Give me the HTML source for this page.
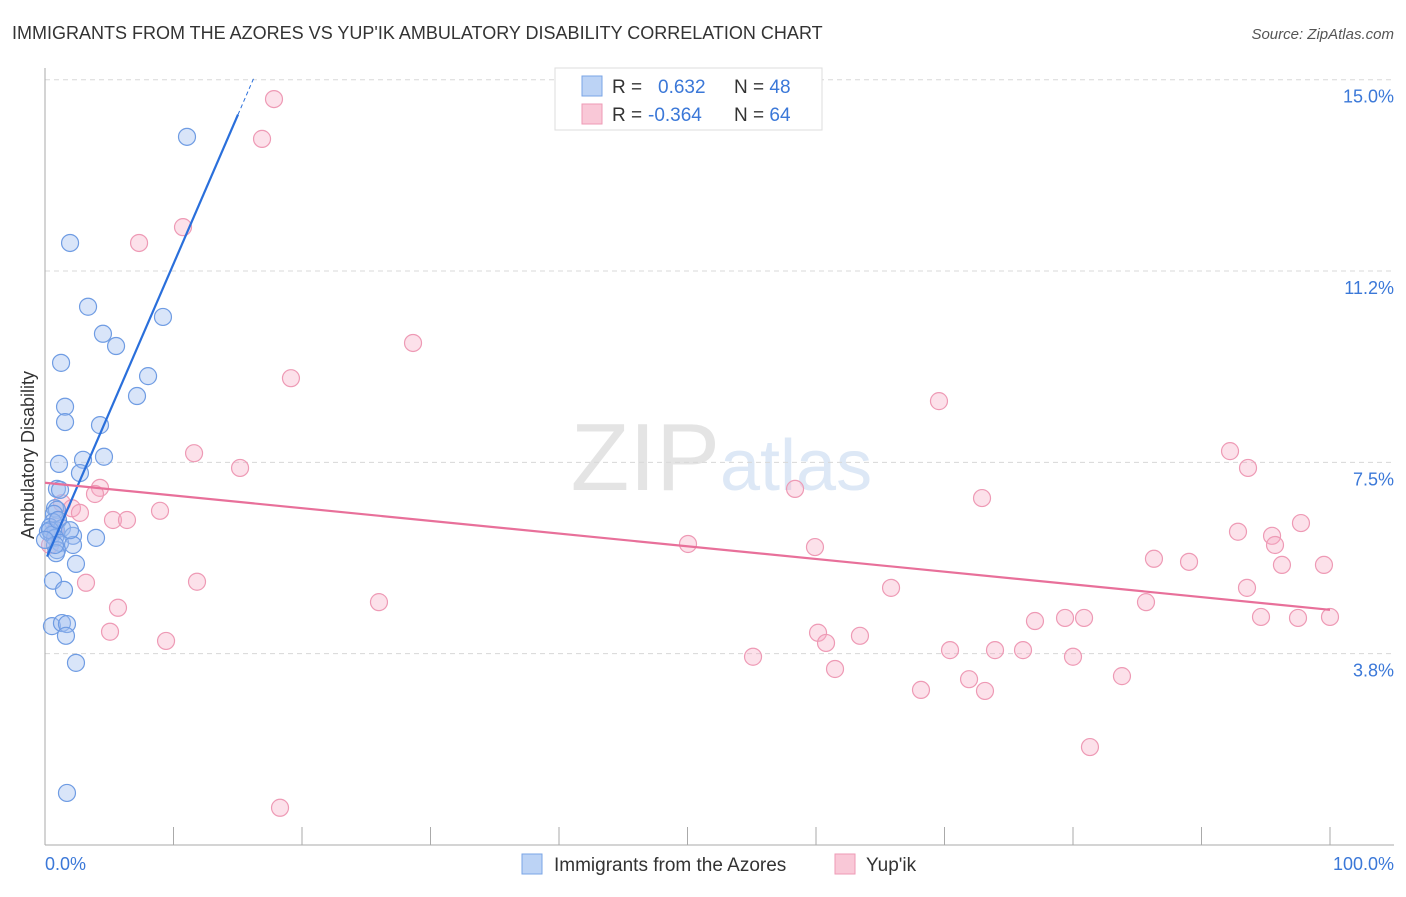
<!DOCTYPE html>
<html><head><meta charset="utf-8"><style>
body{margin:0;background:#fff;font-family:"Liberation Sans",sans-serif}
svg text{font-family:"Liberation Sans",sans-serif}
</style></head><body>
<svg id="chart" width="1406" height="892" viewBox="0 0 1406 892">
<text x="12" y="39" font-size="18" fill="#333">IMMIGRANTS FROM THE AZORES VS YUP'IK AMBULATORY DISABILITY CORRELATION CHART</text>
<text x="1394" y="39" font-size="15" fill="#555" font-style="italic" text-anchor="end">Source: ZipAtlas.com</text>
<text x="720" y="490" font-size="96" fill="#e4e4e4" text-anchor="end" font-family="Liberation Serif">ZIP</text>
<text x="720" y="490" font-size="72" fill="#dde8f6">atlas</text>
<g id="grid"></g><g id="axes"></g><g id="pts"></g><g id="lines"></g>
<text transform="translate(34,455) rotate(-90)" font-size="18" fill="#333" text-anchor="middle">Ambulatory Disability</text>
<text x="45" y="870" font-size="18" fill="#3b78d8">0.0%</text>
<text x="1394" y="870" font-size="18" fill="#3b78d8" text-anchor="end">100.0%</text>
<g>
<rect x="555" y="68" width="267" height="62" fill="#fff" stroke="#ddd"/>
<rect x="582" y="76" width="20" height="20" fill="#bcd3f5" stroke="#7aa5e6"/>
<rect x="582" y="104" width="20" height="20" fill="#f9c8d7" stroke="#ee9ab5"/>
<text x="612" y="93" font-size="19" fill="#333">R = <tspan fill="#3b78d8" x="658">0.632</tspan><tspan x="734" fill="#333">N = </tspan><tspan fill="#3b78d8">48</tspan></text>
<text x="612" y="121" font-size="19" fill="#333">R = <tspan fill="#3b78d8" x="648">-0.364</tspan><tspan x="734" fill="#333">N = </tspan><tspan fill="#3b78d8">64</tspan></text>
</g>
<g>
<rect x="522" y="854" width="20" height="20" fill="#bcd3f5" stroke="#7aa5e6"/>
<text x="554" y="871" font-size="19" fill="#333">Immigrants from the Azores</text>
<rect x="835" y="854" width="20" height="20" fill="#f9c8d7" stroke="#ee9ab5"/>
<text x="866" y="871" font-size="19" fill="#333">Yup'ik</text>
</g>
</svg>
<script>
const yTicks=[3.75,7.5,11.25,15];
const yTickLabels=["3.8%","7.5%","11.2%","15.0%"];
const blueX=[11.05,1.95,3.35,9.18,4.51,5.53,1.25,8.02,7.16,1.56,1.56,4.28,2.96,4.59,1.09,2.72,0.93,1.17,0.78,0.93,0.70,0.62,0.39,0.86,1.32,0.23,0.54,0.78,2.18,3.97,1.17,2.18,0.93,0.86,2.41,0.62,1.48,0.54,1.32,1.71,1.63,2.41,1.71,0.39,1.01,0.78,1.95,0];
const blueY=[13.88,11.80,10.55,10.35,10.02,9.78,9.45,9.19,8.80,8.59,8.29,8.23,7.55,7.61,7.47,7.29,6.98,6.96,6.60,6.57,6.49,6.33,6.23,6.17,6.21,6.14,6.08,6.02,6.06,6.02,5.92,5.88,5.78,5.72,5.51,5.18,5.00,4.29,4.35,4.33,4.10,3.57,1.02,6.17,6.37,5.88,6.17,5.98];
const pinkX=[17.82,16.89,10.74,7.32,28.64,19.14,69.57,92.22,11.60,15.18,93.62,4.28,3.89,58.37,72.92,1.32,2.10,2.72,8.95,5.29,6.38,97.74,92.84,95.49,95.72,50.04,59.92,0.78,1.01,0.39,86.30,89.03,96.26,99.53,3.19,11.83,65.84,93.54,5.68,25.99,85.68,77.04,79.38,80.86,94.63,97.51,100,5.06,9.42,60.16,60.78,63.42,70.43,73.93,76.11,80.00,55.10,61.48,71.91,68.17,73.15,83.81,81.32,18.29];
const pinkY=[14.62,13.84,12.11,11.80,9.84,9.15,8.70,7.72,7.68,7.39,7.39,7.00,6.88,6.98,6.80,6.70,6.60,6.51,6.55,6.37,6.37,6.31,6.14,6.06,5.88,5.90,5.84,6.17,6.37,5.88,5.61,5.55,5.49,5.49,5.14,5.16,5.04,5.04,4.65,4.76,4.76,4.39,4.45,4.45,4.47,4.45,4.47,4.18,4.00,4.16,3.96,4.10,3.82,3.82,3.82,3.69,3.69,3.45,3.25,3.04,3.02,3.31,1.92,0.73];
const blueTrend=[5.56,0.583];
const pinkTrend=[7.10,-0.0249];
const X=v=>45+v*12.85, Y=v=>845-v*51.02;
const NS="http://www.w3.org/2000/svg";
function mk(p,t,a){const e=document.createElementNS(NS,t);for(const k in a)e.setAttribute(k,a[k]);document.getElementById(p).appendChild(e);return e;}
yTicks.forEach((t,i)=>{
 const l=mk('grid','line',{x1:45,x2:1394,y1:Y(t),y2:Y(t),stroke:'#d8d8d8','stroke-dasharray':'5,4'});
 
 
 const tx=mk('grid','text',{x:1394,y:Y(t)+23,'font-size':18,fill:'#3b78d8','text-anchor':'end'});
 tx.textContent=yTickLabels[i];
 
 
});
const ax=mk('axes','line',{x1:45,x2:45,y1:68,y2:845,stroke:'#aaa'});


const bx=mk('axes','line',{x1:45,x2:1394,y1:845,y2:845,stroke:'#aaa'});


for(let i=0;i<=10;i++){const t=mk('axes','line',{x1:X(i*10),x2:X(i*10),y1:827,y2:845,stroke:'#aaa'});
 
 }
pinkX.forEach((x,i)=>{const c=mk('pts','circle',{cx:X(x),cy:Y(pinkY[i]),r:8.5,fill:'rgba(245,170,195,0.35)',stroke:'#ee9ab5','stroke-width':1.2});
 
 });
blueX.forEach((x,i)=>{const c=mk('pts','circle',{cx:X(x),cy:Y(blueY[i]),r:8.5,fill:'rgba(160,190,240,0.4)',stroke:'#6f9ce3','stroke-width':1.2});
 
 });
const bt=x=>blueTrend[0]+blueTrend[1]*x, pt=x=>pinkTrend[0]+pinkTrend[1]*x;
const l1=mk('lines','line',{x1:X(0.16),y1:Y(bt(0.16)),x2:X(15.02),y2:Y(bt(15.02)),stroke:'#2a6fdb','stroke-width':2.2});


const l2=mk('lines','line',{x1:X(15.02),y1:Y(bt(15.02)),x2:X(16.3),y2:Y(bt(16.3)),stroke:'#2a6fdb','stroke-width':1,'stroke-dasharray':'4,3'});


const l3=mk('lines','line',{x1:X(0),y1:Y(pt(0)),x2:X(100),y2:Y(pt(100)),stroke:'#e8709a','stroke-width':2.2});


</script>
</body></html>
